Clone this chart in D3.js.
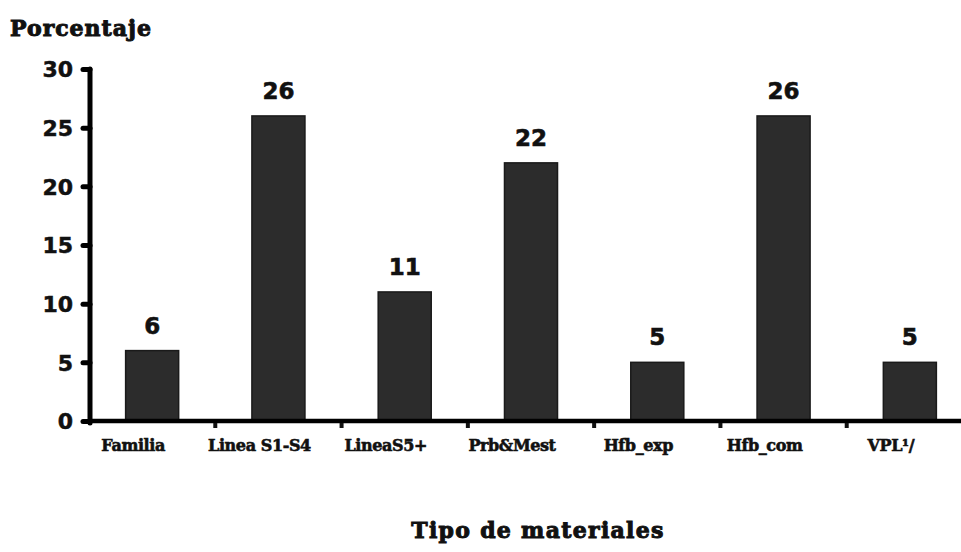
<!DOCTYPE html>
<html>
<head>
<meta charset="utf-8">
<script src="https://cdn.jsdelivr.net/npm/d3@7"></script>
<style>
  html, body { margin: 0; padding: 0; background: #fff; }
  svg { display: block; }
</style>
</head>
<body>
<svg id="chart" width="961" height="552"></svg>
<script>
// Share of materials by type (percent)
const categories = ["Familia", "Linea S1-S4", "LineaS5+", "Prb&Mest", "Hfb_exp", "Hfb_com", "VPL\u00b9/"];
const values = [6, 26, 11, 22, 5, 26, 5];
const yTicks = [0, 5, 10, 15, 20, 25, 30];

const svg = d3.select("#chart");
const plotLeft = 90, plotBottom = 421, plotTop = 69;

const x = d3.scaleBand()
  .domain(categories)
  .range([89, 973])
  .paddingInner(0.58)
  .paddingOuter(0.29);

const y = d3.scaleLinear().domain([0, 30]).range([plotBottom, plotTop]);

const heavySerif = "'DejaVu Serif', serif";
const boldSans = "'DejaVu Sans', sans-serif";

// Bars
svg.append("g").selectAll("rect")
  .data(values)
  .join("rect")
  .attr("x", (d, i) => x(categories[i]))
  .attr("y", d => y(d))
  .attr("width", x.bandwidth())
  .attr("height", d => y(0) - y(d))
  .attr("fill", "#2c2c2c")
  .attr("stroke", "#1a1a1a")
  .attr("stroke-width", 1.5);

// Value labels
svg.append("g").selectAll("text")
  .data(values)
  .join("text")
  .attr("x", (d, i) => x(categories[i]) + x.bandwidth() / 2)
  .attr("y", d => y(d) - 17)
  .attr("text-anchor", "middle")
  .attr("font-family", boldSans)
  .attr("font-weight", "bold")
  .attr("font-size", 23)
  .attr("fill", "#111")
  .attr("stroke", "#111")
  .attr("stroke-width", 0.6)
  .text(d => d);

// Y axis
const yAxis = svg.append("g")
  .attr("transform", `translate(${plotLeft},0)`)
  .call(d3.axisLeft(y).tickValues(yTicks).tickSize(7).tickPadding(10));
yAxis.select(".domain").remove();
yAxis.append("line")
  .attr("x1", 0).attr("x2", 0)
  .attr("y1", y(30)).attr("y2", y(0) + 2)
  .attr("stroke", "#000").attr("stroke-width", 5).attr("stroke-linecap", "round");
yAxis.selectAll(".tick line")
  .attr("stroke", "#000").attr("stroke-width", 5).attr("stroke-linecap", "round");
yAxis.selectAll(".tick text")
  .attr("font-family", boldSans)
  .attr("font-weight", "bold")
  .attr("font-size", 22)
  .attr("fill", "#111")
  .attr("stroke", "#111")
  .attr("stroke-width", 0.5)
  .attr("dy", "0.36em");

// X axis
const xAxis = svg.append("g")
  .attr("transform", `translate(0,${plotBottom})`)
  .call(d3.axisBottom(x).tickSize(0).tickPadding(19));
xAxis.select(".domain").remove();
xAxis.append("line")
  .attr("x1", plotLeft).attr("x2", 961)
  .attr("y1", 0).attr("y2", 0)
  .attr("stroke", "#000").attr("stroke-width", 4.5);
xAxis.selectAll(".tick text")
  .attr("font-family", heavySerif)
  .attr("font-weight", "bold")
  .attr("font-size", 16)
  .attr("letter-spacing", "-0.4px")
  .attr("fill", "#111")
  .attr("stroke", "#111")
  .attr("stroke-width", 0.6)
  .attr("dx", -19);

// Small marks between categories
svg.append("g").selectAll("line")
  .data(categories.slice(1))
  .join("line")
  .attr("x1", d => x(d) - x.step() * x.paddingInner() / 2)
  .attr("x2", d => x(d) - x.step() * x.paddingInner() / 2)
  .attr("y1", plotBottom + 2).attr("y2", plotBottom + 7)
  .attr("stroke", "#111").attr("stroke-width", 4);

// Axis titles
svg.append("text")
  .attr("x", 10).attr("y", 36)
  .attr("font-family", heavySerif)
  .attr("font-weight", "bold")
  .attr("font-size", 22)
  .attr("letter-spacing", "1px")
  .attr("fill", "#111")
  .attr("stroke", "#111")
  .attr("stroke-width", 1)
  .text("Porcentaje");

svg.append("text")
  .attr("x", 538).attr("y", 538)
  .attr("text-anchor", "middle")
  .attr("font-family", heavySerif)
  .attr("font-weight", "bold")
  .attr("font-size", 22)
  .attr("letter-spacing", "1.3px")
  .attr("fill", "#111")
  .attr("stroke", "#111")
  .attr("stroke-width", 1)
  .text("Tipo de materiales");
</script>
</body>
</html>
